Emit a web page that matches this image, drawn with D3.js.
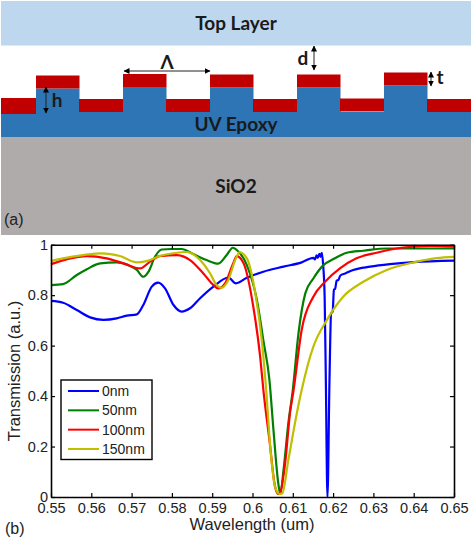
<!DOCTYPE html>
<html>
<head>
<meta charset="utf-8">
<script src="https://cdn.jsdelivr.net/npm/d3@7"></script>
<style>
  html, body { margin: 0; padding: 0; background: #fff; }
  svg { display: block; }
  .axis path, .axis line { stroke: #000; }
  .axis path { stroke-width: 1.6; }
  .axis line { stroke-width: 1.2; }
</style>
</head>
<body>
<svg id="fig" width="472" height="538"></svg>
<script>
'use strict';

// [wavelength, transmission]
const blue0 = [[.55,.777],[.553,.77],[.5564,.741],[.5597,.712],[.563,.702],[.5663,.708],[.5688,.719],[.5713,.724],[.5729,.761],[.575,.834],[.5766,.85],[.5783,.827],[.5804,.761],[.5824,.735],[.5845,.748],[.587,.788],[.5903,.834],[.594,.87],[.5959,.847],[.5986,.869],[.6027,.893],[.6077,.913],[.6122,.93],[.6151,.948],[.6155,.942],[.6159,.958],[.6162,.948],[.6166,.964],[.6169,.952],[.6172,.968],[.6175,.926],[.6179,.794],[.6182,.46],[.6186,0],[.6191,.46],[.6195,.728],[.6199,.735],[.6202,.822],[.6205,.825],[.6209,.858],[.6213,.86],[.6218,.878],[.623,.886],[.625,.9],[.6292,.913],[.6341,.923],[.64,.931],[.65,.937]];
const green50 = [[.55,.84],[.553,.844],[.5564,.88],[.5589,.903],[.5622,.926],[.5663,.93],[.5692,.919],[.5713,.9],[.5729,.873],[.5742,.893],[.5758,.952],[.5775,.981],[.5799,.983],[.5824,.983],[.5853,.963],[.5886,.939],[.5915,.925],[.5936,.959],[.5951,.988],[.5961,.979],[.5986,.919],[.6011,.78],[.6027,.62],[.6042,.464],[.6052,.266],[.6064,.054],[.6069,.012],[.6077,.107],[.6089,.293],[.61,.424],[.6114,.648],[.6131,.807],[.6151,.866],[.6176,.919],[.6201,.943],[.6234,.968],[.6275,.976],[.6333,.985],[.64,.985],[.65,.985]];
const red100 = [[.55,.923],[.5539,.942],[.5589,.955],[.5638,.946],[.568,.926],[.5721,.906],[.5746,.933],[.577,.955],[.5812,.959],[.5845,.939],[.5878,.886],[.5903,.84],[.5915,.827],[.5932,.847],[.5952,.926],[.5961,.955],[.5978,.926],[.6002,.754],[.6019,.556],[.6027,.424],[.6042,.226],[.6056,.041],[.6064,.012],[.6068,.015],[.6081,.134],[.6093,.332],[.6102,.424],[.6122,.662],[.6151,.794],[.618,.853],[.6217,.906],[.6258,.946],[.6308,.968],[.6374,.989],[.6441,.995],[.65,.992]];
const yellow150 = [[.55,.935],[.553,.946],[.558,.959],[.5626,.966],[.5671,.955],[.5713,.93],[.5737,.935],[.577,.955],[.5804,.966],[.5837,.971],[.587,.939],[.5895,.886],[.5911,.84],[.5922,.829],[.594,.86],[.5957,.939],[.5968,.97],[.5986,.946],[.6007,.807],[.6023,.622],[.6034,.424],[.6044,.2],[.6056,.041],[.6067,.012],[.6074,.015],[.6089,.147],[.611,.332],[.6122,.424],[.6151,.596],[.6184,.7],[.6225,.794],[.6275,.853],[.6333,.9],[.64,.93],[.6457,.947],[.65,.952]];

const seriesNames = ['0nm', '50nm', '100nm', '150nm'];
const seriesValues = [blue0, green50, red100, yellow150];
const seriesColors = ['#0000ff', '#007f00', '#ff0000', '#bfbf00'];
const xTicks = [.55, .56, .57, .58, .59, .6, .61, .62, .63, .64, .65];
const yTicks = [0, .2, .4, .6, .8, 1];

// schematic, in pixels of the upper panel
const pillars = [[36, 75.5, 88.5], [123, 74, 87], [210, 74.5, 87.5], [297, 74.5, 87.5], [384, 72.5, 85.5]];
const gaps = [[1, 35, 98, 114], [79, 44, 99, 112], [166, 44, 99, 112], [253, 44, 99, 112], [340, 44, 98.5, 111.5], [427, 44, 99, 112]];

const svg = d3.select('#fig');

const sansBold = 'Lato, "Open Sans", sans-serif';
const arial = '"Liberation Sans", Arial, sans-serif';

// (a) layer stack
const top_ = svg.append('g');
top_.append('rect').attr('x', 1).attr('y', 1).attr('width', 470).attr('height', 44.5).attr('fill', '#bdd7ee');
top_.append('rect').attr('x', 1).attr('y', 112).attr('width', 470).attr('height', 25).attr('fill', '#2e75b6');
top_.append('rect').attr('x', 1).attr('y', 137).attr('width', 470).attr('height', 98).attr('fill', '#afabab');

top_.selectAll('.pillar').data(pillars).join('rect')
  .attr('x', d => d[0]).attr('y', d => d[2])
  .attr('width', 43.5).attr('height', d => 113 - d[2])
  .attr('fill', '#2e75b6');
top_.selectAll('.cap').data(pillars).join('rect')
  .attr('x', d => d[0]).attr('y', d => d[1])
  .attr('width', 43.5).attr('height', d => d[2] - d[1])
  .attr('fill', '#c00000');
top_.selectAll('.gap').data(gaps).join('rect')
  .attr('x', d => d[0]).attr('y', d => d[2])
  .attr('width', d => d[1]).attr('height', d => d[3] - d[2])
  .attr('fill', '#c00000');

svg.append('defs').append('marker')
  .attr('id', 'tip').attr('viewBox', '0 0 6 6').attr('refX', 5.5).attr('refY', 3)
  .attr('markerWidth', 6).attr('markerHeight', 6).attr('orient', 'auto-start-reverse')
  .append('path').attr('d', 'M0 0 L6 3 L0 6 Z').attr('fill', '#000');

const arrows = [[46, 87, 46, 113], [124, 71, 210, 71], [314, 46, 314, 70], [431, 72, 431, 86]];
top_.selectAll('.arrow').data(arrows).join('line')
  .attr('x1', d => d[0]).attr('y1', d => d[1]).attr('x2', d => d[2]).attr('y2', d => d[3])
  .attr('stroke', '#222').attr('stroke-width', 1)
  .attr('marker-start', 'url(#tip)').attr('marker-end', 'url(#tip)');

const labels = [
  ['Top Layer', 236, 30, 19], ['UV Epoxy', 236, 131, 19], ['SiO2', 236, 193, 19],
  ['Λ', 167, 69, 19], ['d', 303, 65, 19], ['h', 57, 107, 19], ['t', 440, 84, 19]
];
top_.selectAll('.lbl').data(labels).join('text')
  .attr('x', d => d[1]).attr('y', d => d[2])
  .attr('text-anchor', 'middle')
  .attr('font-family', sansBold).attr('font-weight', 700).attr('font-size', d => d[3])
  .attr('fill', '#1a1a1a')
  .text(d => d[0]);

svg.append('text').attr('x', 4).attr('y', 224.5).attr('font-family', arial).attr('font-size', 16).attr('fill', '#222').text('(a)');
svg.append('text').attr('x', 5).attr('y', 533.5).attr('font-family', arial).attr('font-size', 16).attr('fill', '#222').text('(b)');

// (b) spectra
const x = d3.scaleLinear().domain([.55, .65]).range([51, 454]);
const y = d3.scaleLinear().domain([0, 1]).range([497, 244.7]);

const fmt = d => String(+d.toFixed(2));

const line = d3.line().x(d => x(d[0])).y(d => y(d[1])).curve(d3.curveMonotoneX);

svg.append('g').selectAll('path').data(seriesValues).join('path')
  .attr('d', line)
  .attr('fill', 'none')
  .attr('stroke', (d, i) => seriesColors[i])
  .attr('stroke-width', 2.2);

const styleAxis = (g) => {
  g.attr('class', 'axis');
  g.selectAll('text').attr('font-family', arial).attr('font-size', 14.5).attr('fill', '#222');
};

svg.append('g').attr('transform', `translate(0,${y(0)})`)
  .call(d3.axisBottom(x).tickValues(xTicks).tickSize(-4).tickSizeOuter(0).tickPadding(6).tickFormat(fmt))
  .call(styleAxis);
svg.append('g').attr('transform', `translate(${x(.55)},0)`)
  .call(d3.axisLeft(y).tickValues(yTicks).tickSize(-4).tickSizeOuter(0).tickPadding(3).tickFormat(fmt))
  .call(styleAxis);
svg.append('g').attr('transform', `translate(0,${y(1)})`)
  .call(d3.axisTop(x).tickValues(xTicks).tickSize(-4).tickSizeOuter(0).tickFormat(''))
  .call(styleAxis);
svg.append('g').attr('transform', `translate(${x(.65)},0)`)
  .call(d3.axisRight(y).tickValues(yTicks).tickSize(-4).tickSizeOuter(0).tickFormat(''))
  .call(styleAxis);

svg.append('text').attr('x', 252).attr('y', 530).attr('text-anchor', 'middle')
  .attr('font-family', arial).attr('font-size', 16.5).attr('fill', '#222').text('Wavelength (um)');
svg.append('text').attr('transform', 'translate(20,371) rotate(-90)').attr('text-anchor', 'middle')
  .attr('font-family', arial).attr('font-size', 16.5).attr('fill', '#222').text('Transmission (a.u.)');

// legend
const legend = svg.append('g');
legend.append('rect').attr('x', 61).attr('y', 380).attr('width', 91).attr('height', 79.5)
  .attr('fill', '#fff').attr('stroke', '#000').attr('stroke-width', 1.4);
const row = d3.scalePoint().domain(seriesNames).range([391, 449]);
legend.selectAll('line').data(seriesNames).join('line')
  .attr('x1', 68).attr('x2', 99).attr('y1', d => row(d)).attr('y2', d => row(d))
  .attr('stroke', (d, i) => seriesColors[i]).attr('stroke-width', 2);
legend.selectAll('text').data(seriesNames).join('text')
  .attr('x', 102).attr('y', d => row(d) + 5)
  .attr('font-family', arial).attr('font-size', 14).attr('fill', '#222')
  .text(d => d);
</script>
</body>
</html>
